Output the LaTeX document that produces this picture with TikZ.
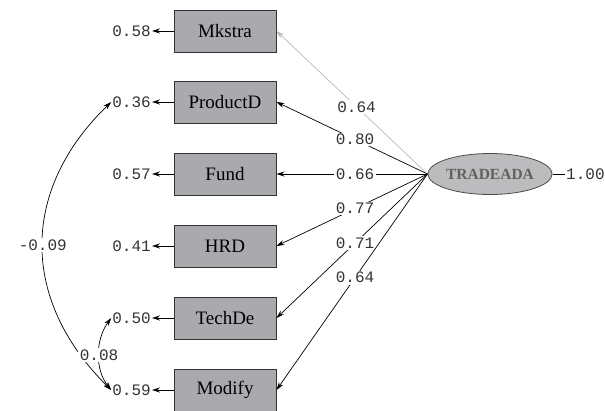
\documentclass[tikz,border=0pt]{standalone}
\usepackage{fontspec}
\setmainfont{Liberation Serif}
\newfontfamily\monof{Liberation Mono}
\usetikzlibrary{arrows.meta,shapes.geometric}
\definecolor{boxgray}{RGB}{170,170,174}
\definecolor{ellgray}{RGB}{188,188,190}
\begin{document}
\begin{tikzpicture}[x=1pt,y=-1pt,
  obs/.style={draw=black!80, line width=1pt, fill=boxgray, minimum width=102pt,
    minimum height=42pt, inner sep=0pt, font=\fontsize{19}{20}\selectfont},
  num/.style={font=\monof\fontsize{16}{17}\selectfont, inner sep=1pt, text=black!80},
  lbl/.style={num, fill=white, inner sep=1.5pt},
  load/.style={-{Stealth[length=8pt,width=5pt]}, line width=0.7pt},
  err/.style={-{Stealth[length=8pt,width=5pt]}, line width=1pt},
  cov/.style={{Stealth[length=8pt,width=5pt]}-{Stealth[length=8pt,width=5pt]}, line width=0.7pt}]
\useasboundingbox (0,0) rectangle (605,410);
\node[obs] (M) at (225,31) {Mkstra};
\node[obs] (P) at (225,102) {ProductD};
\node[obs] (F) at (225,174) {Fund};
\node[obs] (H) at (225,246) {HRD};
\node[obs] (Te) at (225,318) {TechDe};
\node[obs] (Mo) at (225,390) {Modify};
\node[ellipse, draw=black!70, line width=0.8pt, fill=ellgray, minimum width=100pt,
  minimum height=41pt, inner sep=0pt, text=black!62,
  font=\bfseries\fontsize{15.5}{17}\selectfont] (T) at (490,174) {TRADEADA};
\node[num, anchor=east] (e1) at (152,31) {0.58};
\node[num, anchor=east] (e2) at (152,102) {0.36};
\node[num, anchor=east] (e3) at (152,174) {0.57};
\node[num, anchor=east] (e4) at (152,246) {0.41};
\node[num, anchor=east] (e5) at (152,318) {0.50};
\node[num, anchor=east] (e6) at (152,390) {0.59};
\draw[err] (M.west) -- (e1.east);
\draw[err] (P.west) -- (e2.east);
\draw[err] (F.west) -- (e3.east);
\draw[err] (H.west) -- (e4.east);
\draw[err] (Te.west) -- (e5.east);
\draw[err] (Mo.west) -- (e6.east);
\draw[load, draw=gray!55] (T.west) -- node[lbl, pos=0.47] {0.64} (M.east);
\draw[load] (T.west) -- node[lbl, pos=0.48] {0.80} (P.east);
\draw[load] (T.west) -- node[lbl, pos=0.48] {0.66} (F.east);
\draw[load] (T.west) -- node[lbl, pos=0.48] {0.77} (H.east);
\draw[load] (T.west) -- node[lbl, pos=0.48] {0.71} (Te.east);
\draw[load] (T.west) -- node[lbl, pos=0.48] {0.64} (Mo.east);
\node[num, anchor=west] (v) at (565,174) {1.00};
\draw[line width=0.7pt] (T.east) -- (v.west);
\draw[cov] (e2.west) .. controls (20,190) and (20,300) .. node[lbl, pos=0.5] {-0.09} (e6.west);
\draw[cov] (e5.west) .. controls (95,340) and (95,370) .. node[lbl, pos=0.5] {0.08} (e6.west);
\end{tikzpicture}
\end{document}
